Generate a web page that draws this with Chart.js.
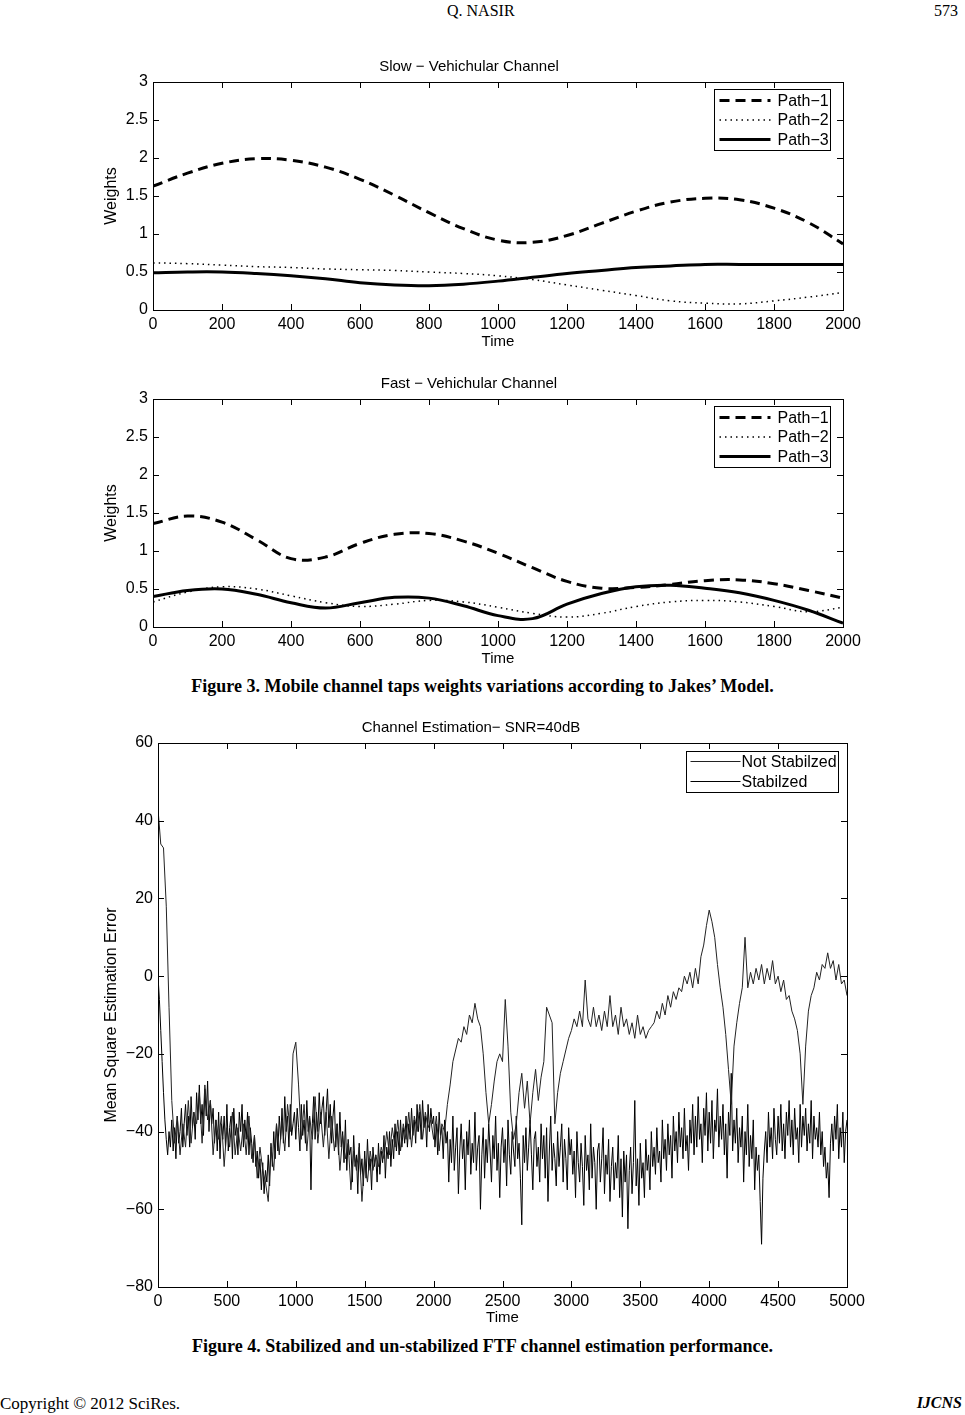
<!DOCTYPE html>
<html>
<head>
<meta charset="utf-8">
<script src="https://cdn.jsdelivr.net/npm/chart.js@4.4.1/dist/chart.umd.min.js"></script>
<style>
  body { margin: 0; background: #fff; width: 965px; height: 1415px; position: relative; overflow: hidden; }
  canvas { position: absolute; }
  .txt { position: absolute; font-family: "Liberation Serif", "Times New Roman", serif; color: #000; white-space: nowrap; }
  .cap { font-weight: bold; font-size: 18px; left: 0; width: 965px; text-align: center; }
</style>
</head>
<body>
<div class="txt" style="left:447px; top:2px; font-size:16px;">Q. NASIR</div>
<div class="txt" style="right:7px; top:2px; font-size:16px;">573</div>

<canvas id="slowChart" width="775" height="300" style="left:95px; top:55px;"></canvas>
<canvas id="fastChart" width="775" height="300" style="left:95px; top:372px;"></canvas>
<div class="txt cap" style="top:676px;">Figure 3. Mobile channel taps weights variations according to Jakes’ Model.</div>

<canvas id="mseChart" width="775" height="610" style="left:95px; top:717px;"></canvas>
<div class="txt cap" style="top:1336px;">Figure 4. Stabilized and un-stabilized FTF channel estimation performance.</div>

<div class="txt" style="left:0; top:1394px; font-size:17px;">Copyright © 2012 SciRes.</div>
<div class="txt" style="right:3px; top:1394px; font-size:16px; font-weight:bold; font-style:italic;">IJCNS</div>

<script>
// figure 3 - tap weights, sampled every 100
const weightTime = [0, 100, 200, 300, 400, 500, 600, 700, 800, 900, 1000, 1100, 1200, 1300, 1400, 1500, 1600, 1700, 1800, 1900, 2000];
const pathNames = ["Path−1", "Path−2", "Path−3"];

const slowPath1 = [1.63, 1.80, 1.93, 1.99, 1.97, 1.88, 1.72, 1.51, 1.28, 1.07, 0.92, 0.89, 0.98, 1.14, 1.30, 1.42, 1.47, 1.45, 1.34, 1.15, 0.87];
const slowPath2 = [0.62, 0.61, 0.59, 0.57, 0.56, 0.54, 0.53, 0.52, 0.50, 0.48, 0.45, 0.40, 0.33, 0.26, 0.19, 0.12, 0.09, 0.08, 0.12, 0.17, 0.23];
const slowPath3 = [0.49, 0.50, 0.50, 0.48, 0.45, 0.41, 0.36, 0.33, 0.32, 0.34, 0.38, 0.43, 0.48, 0.52, 0.56, 0.58, 0.60, 0.60, 0.60, 0.60, 0.60];

const fastPath1 = [1.36, 1.46, 1.38, 1.15, 0.90, 0.92, 1.10, 1.22, 1.23, 1.13, 0.97, 0.78, 0.60, 0.51, 0.52, 0.56, 0.61, 0.62, 0.57, 0.48, 0.38];
const fastPath2 = [0.33, 0.46, 0.53, 0.50, 0.41, 0.32, 0.27, 0.30, 0.35, 0.33, 0.26, 0.18, 0.13, 0.18, 0.27, 0.33, 0.35, 0.33, 0.27, 0.20, 0.26];
const fastPath3 = [0.40, 0.48, 0.50, 0.43, 0.32, 0.25, 0.32, 0.39, 0.38, 0.28, 0.15, 0.11, 0.30, 0.44, 0.53, 0.55, 0.51, 0.45, 0.35, 0.22, 0.05];

const weightTicks = [0, 0.5, 1, 1.5, 2, 2.5, 3];

// figure 4 - MSE in dB
const mseNames = ["Not Stabilzed", "Stabilzed"];

// not stabilized: one value every 20 samples (t = 0..5000)
const timeNotStab = Array.from({ length: 251 }, (_, i) => i * 20);
const notStabilized = [
  43, 34, 33, 18, -8, -32, -43, -36, -46, -38,
  -44, -32, -43, -35, -38, -30, -43, -28, -37, -32,
  -46, -37, -42, -36, -49, -39, -44, -35, -46, -39,
  -45, -38, -46, -36, -47, -41, -52, -44, -50, -53,
  -58, -44, -50, -38, -46, -37, -45, -33, -40, -20,
  -17, -28, -42, -33, -45, -36, -42, -31, -43, -35,
  -44, -35, -47, -36, -45, -38, -50, -41, -47, -43,
  -55, -45, -50, -44, -58, -47, -53, -45, -50, -46,
  -49, -44, -47, -40, -46, -39, -44, -37, -45, -38,
  -42, -35, -44, -36, -40, -33, -42, -35, -39, -37,
  -42, -36, -45, -38, -40, -33, -28, -22, -19, -16,
  -17, -13, -15, -10, -12, -7, -11, -13, -20, -30,
  -38, -33, -27, -22, -20, -22, -6, -18, -35, -42,
  -38, -30, -25, -34, -27, -38, -30, -24, -32, -26,
  -22, -8, -10, -12, -38, -30, -25, -22, -19, -16,
  -14, -11, -13, -9, -13, -1, -11, -13, -8, -13,
  -10, -14, -9, -13, -5, -13, -10, -15, -8, -13,
  -11, -15, -12, -16, -10, -15, -13, -16, -14, -13,
  -12, -9, -11, -7, -10, -5, -8, -4, -6, -3,
  -4, 0, -2, 1, -3, 2, -2, 5, 8, 13,
  17, 14, 10, 3, -3, -8, -15, -24, -33, -18,
  -12, -7, -3, 10, -3, 1, -2, 2, -1, 3,
  -2, 2, -1, 4, -2, 0, -4, -1, -6, -5,
  -9, -11, -14, -20, -33, -18, -9, -5, -3, 1,
  -1, 3, 2, 6, 2, 4, -1, 3, -2, -1,
  -5
];

// stabilized: one value every 10 samples (t = 0..5000), rows of 100 samples
const timeStab = Array.from({ length: 501 }, (_, i) => i * 10);
const stabilized = [
  0, -6, -14, -22, -30, -37, -42, -46, -40, -44,
  -37, -45, -39, -47, -36, -43, -40, -34, -44, -38,
  -33, -41, -36, -44, -31, -39, -35, -42, -30, -37,
  -28, -38, -33, -41, -29, -36, -27, -40, -32, -38,
  -34, -43, -37, -45, -35, -47, -38, -42, -36, -44,
  -33, -45, -39, -36, -47, -34, -41, -38, -46, -35,
  -40, -33, -44, -37, -42, -35, -46, -39, -43, -48,
  -41, -49, -45, -52, -47, -55, -48, -56, -50, -53,
  -46, -54, -43, -49, -40, -47, -38, -45, -36, -42,
  -34, -43, -31, -40, -36, -44, -33, -41, -38, -35,
  -42, -34, -39, -45, -33, -41, -37, -43, -32, -40,
  -36, -55, -38, -31, -42, -35, -40, -30, -38, -34,
  -31, -41, -35, -29, -39, -33, -43, -36, -32, -44,
  -38, -46, -35, -44, -40, -48, -37, -50, -42, -46,
  -44, -53, -41, -49, -46, -56, -43, -51, -47, -54,
  -45, -52, -42, -50, -47, -55, -44, -49, -46, -53,
  -43, -51, -45, -48, -41, -52, -44, -47, -40, -49,
  -42, -47, -38, -45, -40, -46, -37, -44, -39, -43,
  -36, -44, -38, -42, -34, -41, -37, -43, -33, -40,
  -35, -42, -32, -39, -36, -44, -33, -40, -34, -38,
  -36, -44, -38, -46, -35, -41, -39, -47, -37, -43,
  -40, -53, -42, -48, -36, -50, -44, -39, -56, -45,
  -38, -47, -42, -55, -40, -46, -37, -51, -43, -48,
  -35, -50, -44, -41, -60, -46, -39, -52, -42, -48,
  -38, -45, -53, -41, -47, -36, -50, -43, -57, -44,
  -39, -48, -42, -54, -37, -46, -51, -40, -45, -49,
  -36, -47, -43, -52, -64, -41, -48, -39, -50, -44,
  -37, -46, -55, -42, -40, -49, -44, -53, -38, -47,
  -41, -52, -39, -58, -45, -36, -50, -43, -47, -54,
  -40, -49, -44, -38, -53, -42, -47, -55, -39, -46,
  -42, -51, -45, -57, -40, -48, -53, -43, -49, -59,
  -41, -50, -46, -55, -38, -52, -44, -48, -60, -45,
  -43, -53, -47, -39, -56, -46, -51, -42, -58, -49,
  -44, -55, -48, -52, -41, -57, -47, -62, -45, -53,
  -46, -65, -50, -44, -56, -48, -32, -54, -47, -59,
  -43, -52, -48, -57, -42, -50, -46, -55, -40, -49,
  -44, -51, -39, -48, -45, -53, -37, -47, -42, -50,
  -38, -46, -41, -52, -36, -45, -40, -48, -35, -44,
  -39, -47, -34, -45, -41, -50, -37, -43, -33, -46,
  -36, -44, -31, -42, -38, -48, -34, -41, -30, -45,
  -35, -43, -32, -47, -37, -40, -29, -44, -36, -42,
  -33, -46, -38, -52, -35, -41, -25, -45, -37, -43,
  -34, -48, -39, -44, -36, -53, -40, -46, -33, -49,
  -41, -47, -37, -55, -44, -50, -46, -58, -69, -52,
  -45, -40, -48, -35, -44, -39, -47, -34, -42, -46,
  -36, -43, -33, -45, -38, -47, -35, -41, -32, -44,
  -37, -46, -34, -42, -39, -48, -33, -44, -36, -41,
  -34, -45, -38, -43, -32, -47, -36, -42, -39, -44,
  -35, -46, -40, -49, -44, -52, -48, -57, -43, -38,
  -45, -36, -42, -33, -47, -39, -44, -35, -48, -40,
  -37
];

const mseTicks = [-80, -60, -40, -20, 0, 20, 40, 60];

const FONT = "'Liberation Sans', Arial, sans-serif";
const minus = (v) => String(v).replace("-", "−");

// box round the plot, ticks pointing inwards, legend top right
const framePlugin = {
  id: "frame",
  afterDatasetsDraw(chart) {
    const { ctx, chartArea: a, scales } = chart;
    const lg = chart.options.plugins.frame;
    ctx.save();
    ctx.strokeStyle = "#000";
    ctx.lineWidth = 1;
    ctx.setLineDash([]);
    ctx.beginPath();
    scales.x.ticks.forEach((t) => {
      const px = Math.round(scales.x.getPixelForValue(t.value)) + 0.5;
      ctx.moveTo(px, a.bottom); ctx.lineTo(px, a.bottom - 6);
      ctx.moveTo(px, a.top); ctx.lineTo(px, a.top + 6);
    });
    scales.y.ticks.forEach((t) => {
      const py = Math.round(scales.y.getPixelForValue(t.value)) + 0.5;
      ctx.moveTo(a.left, py); ctx.lineTo(a.left + 6, py);
      ctx.moveTo(a.right, py); ctx.lineTo(a.right - 6, py);
    });
    ctx.stroke();
    ctx.strokeRect(Math.round(a.left) + 0.5, Math.round(a.top) + 0.5, Math.round(a.width), Math.round(a.height));

    // legend
    const bx = Math.round(a.right - lg.right - lg.width) + 0.5;
    const by = Math.round(a.top + lg.top) + 0.5;
    ctx.fillStyle = "#fff";
    ctx.fillRect(bx, by, lg.width, lg.height);
    ctx.strokeRect(bx, by, lg.width, lg.height);
    ctx.font = "16px " + FONT;
    ctx.textBaseline = "middle";
    ctx.textAlign = "left";
    chart.data.datasets.forEach((ds, i) => {
      const yy = by + lg.first + i * lg.row;
      ctx.beginPath();
      ctx.setLineDash(ds.borderDash || []);
      ctx.lineWidth = ds.borderWidth;
      ctx.strokeStyle = ds.borderColor;
      ctx.moveTo(bx + lg.pad, yy);
      ctx.lineTo(bx + lg.pad + lg.len, yy);
      ctx.stroke();
      ctx.setLineDash([]);
      ctx.fillStyle = "#000";
      ctx.fillText(ds.label, bx + lg.pad + lg.len + lg.gap, yy + 1);
    });
    ctx.restore();
  },
};

const points = (xs, ys) => xs.map((x, i) => ({ x: x, y: ys[i] }));

const pathStyles = [
  { borderDash: [10, 6], borderWidth: 3 },
  { borderDash: [1.5, 4], borderWidth: 1.5 },
  { borderDash: [], borderWidth: 3 },
];

function weightChart(id, title, series) {
  return new Chart(document.getElementById(id), {
    type: "line",
    data: {
      datasets: series.map((s, i) => ({
        label: pathNames[i],
        data: points(weightTime, s),
        borderColor: "#000",
        borderDash: pathStyles[i].borderDash,
        borderWidth: pathStyles[i].borderWidth,
        pointRadius: 0,
        tension: 0.4,
        fill: false,
      })),
    },
    options: {
      responsive: false,
      animation: false,
      layout: { padding: { left: 0, right: 27, top: 0, bottom: 0 } },
      plugins: {
        legend: { display: false },
        tooltip: { enabled: false },
        title: { display: true, text: title, color: "#000", font: { family: FONT, size: 15, weight: "normal" }, padding: { top: 3, bottom: 6 } },
        frame: { right: 13, top: 7, width: 116, height: 61, first: 11, row: 19.5, pad: 5, len: 51, gap: 7 },
      },
      scales: {
        x: {
          type: "linear", min: 0, max: 2000,
          afterFit: (s) => { s.height = 45; },
          grid: { display: false, drawTicks: false }, border: { display: false },
          ticks: { stepSize: 200, padding: 5, color: "#000", font: { family: FONT, size: 16 }, callback: (v) => String(v), maxRotation: 0 },
          title: { display: true, text: "Time", color: "#000", font: { family: FONT, size: 15 }, padding: { top: 0, bottom: 4 } },
        },
        y: {
          type: "linear", min: 0, max: 3,
          afterFit: (s) => { s.width = 58; },
          afterBuildTicks: (s) => { s.ticks = weightTicks.map((v) => ({ value: v })); },
          grid: { display: false, drawTicks: false }, border: { display: false },
          ticks: { padding: 5, color: "#000", font: { family: FONT, size: 16 }, callback: (v) => String(v) },
          title: { display: true, text: "Weights", color: "#000", font: { family: FONT, size: 16 }, padding: { top: 7, bottom: 0 } },
        },
      },
    },
    plugins: [framePlugin],
  });
}

weightChart("slowChart", "Slow − Vehichular Channel", [slowPath1, slowPath2, slowPath3]);
weightChart("fastChart", "Fast − Vehichular Channel", [fastPath1, fastPath2, fastPath3]);

new Chart(document.getElementById("mseChart"), {
  type: "line",
  data: {
    datasets: [
      { label: mseNames[0], data: points(timeNotStab, notStabilized), borderColor: "#222", borderWidth: 1, pointRadius: 0, tension: 0 },
      { label: mseNames[1], data: points(timeStab, stabilized), borderColor: "#000", borderWidth: 1, pointRadius: 0, tension: 0 },
    ],
  },
  options: {
    responsive: false,
    animation: false,
    layout: { padding: { left: 0, right: 23, top: 0, bottom: 0 } },
    plugins: {
      legend: { display: false },
      tooltip: { enabled: false },
      title: { display: true, text: "Channel Estimation− SNR=40dB", color: "#000", font: { family: FONT, size: 15, weight: "normal" }, padding: { top: 2, bottom: 6 } },
      frame: { right: 9, top: 8, width: 152, height: 41, first: 10, row: 20, pad: 4, len: 50, gap: 1 },
    },
    scales: {
      x: {
        type: "linear", min: 0, max: 5000,
        afterFit: (s) => { s.height = 40; },
        grid: { display: false, drawTicks: false }, border: { display: false },
        ticks: { stepSize: 500, padding: 5, color: "#000", font: { family: FONT, size: 16 }, callback: (v) => String(v), maxRotation: 0 },
        title: { display: true, text: "Time", color: "#000", font: { family: FONT, size: 15 }, padding: { top: 0, bottom: 0 } },
      },
      y: {
        type: "linear", min: -80, max: 60,
        afterFit: (s) => { s.width = 63; },
        afterBuildTicks: (s) => { s.ticks = mseTicks.map((v) => ({ value: v })); },
        grid: { display: false, drawTicks: false }, border: { display: false },
        ticks: { padding: 5, color: "#000", font: { family: FONT, size: 16 }, callback: minus },
        title: { display: true, text: "Mean Square Estimation Error", color: "#000", font: { family: FONT, size: 16 }, padding: { top: 7, bottom: 0 } },
      },
    },
  },
  plugins: [framePlugin],
});
</script>
</body>
</html>
